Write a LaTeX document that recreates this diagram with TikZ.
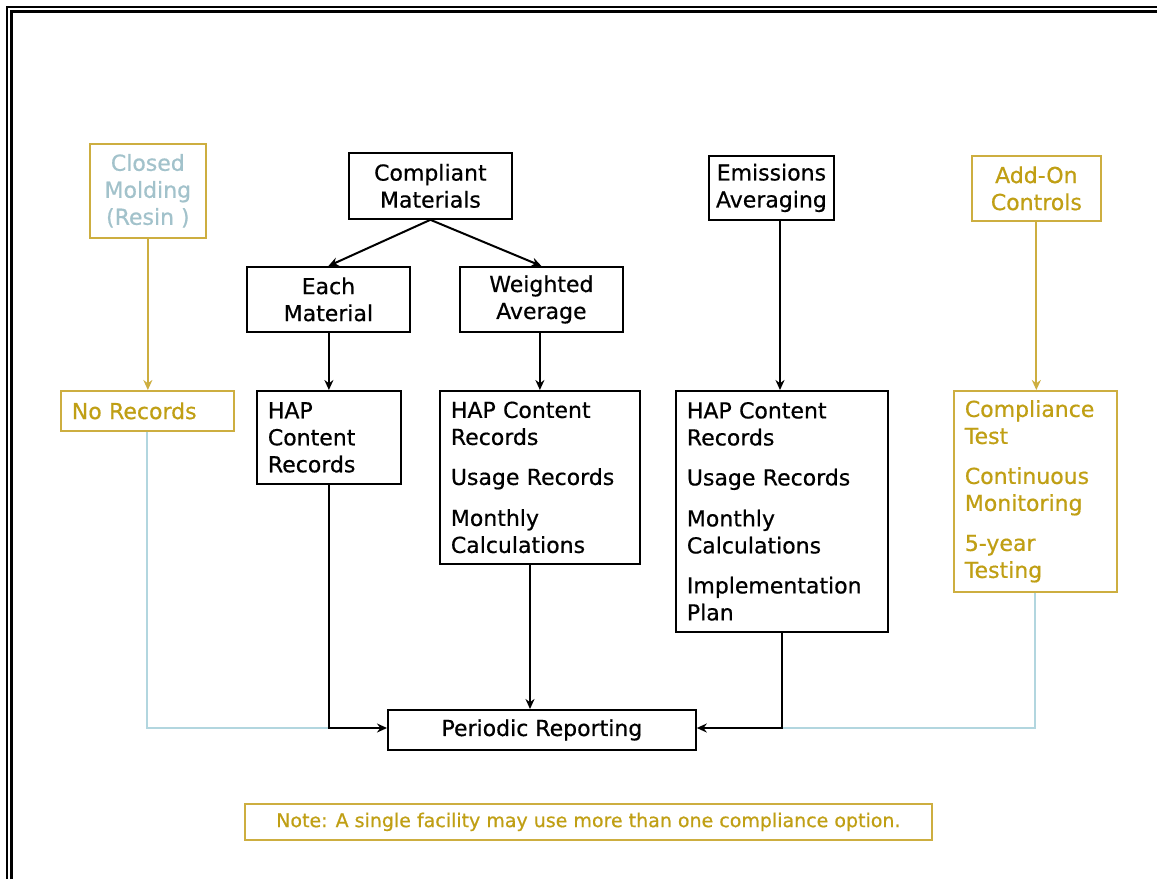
\documentclass[tikz,border=0pt]{standalone}
\usepackage{fontspec}
\setmainfont{DejaVu Sans}[FakeBold=0.6]
\usetikzlibrary{arrows.meta}
\definecolor{goldtext}{HTML}{C09F14}
\definecolor{goldline}{HTML}{CDAE40}
\definecolor{paleblue}{HTML}{B2D6DF}
\definecolor{greytext}{HTML}{A2C2CB}
\tikzset{
  box/.style={draw=black, line width=1.8pt, anchor=north west, inner sep=0pt,
    font=\fontsize{22}{27}\selectfont, align=center},
  listbox/.style={box, align=left, inner xsep=11pt},
  goldbox/.style={box, draw=goldline, line width=1.7pt, text=goldtext},
  goldlist/.style={goldbox, align=left, inner xsep=11pt},
  flow/.style={line width=2pt, -{Stealth[length=10pt,width=9pt]}},
  goldflow/.style={flow, draw=goldline, fill=goldline, line width=1.8pt},
  paleflow/.style={draw=paleblue, line width=1.8pt},
}
\begin{document}
\begin{tikzpicture}[x=1pt,y=-1pt]
  % page and double rule on the top and left edges
  \fill[white] (0,0) rectangle (1157,879);
  \useasboundingbox (0,0) rectangle (1157,879);
  \draw[line width=2.2pt] (7,879) -- (7,7) -- (1157,7);
  \draw[line width=2.2pt] (11.5,879) -- (11.5,11.5) -- (1157,11.5);

  % top row
  \node[goldbox, text=greytext, minimum width=116, minimum height=94] (closed) at (89,143) {Closed\\Molding\\(Resin )};
  \node[box, minimum width=163, minimum height=66] (compliant) at (348,152) {Compliant\\Materials};
  \node[box, minimum width=125, minimum height=64] (emis) at (708,155) {Emissions\\Averaging};
  \node[goldbox, minimum width=129, minimum height=65] (addon) at (971,155) {Add-On\\Controls};

  % second row
  \node[box, minimum width=163, minimum height=65] (each) at (246,266) {Each\\Material};
  \node[box, minimum width=163, minimum height=65] (weighted) at (459,266) {Weighted\\Average};

  % record boxes
  \node[goldlist, text width=151, minimum width=173, minimum height=40] (norec) at (60,390) {No Records};
  \node[listbox, text width=122, minimum width=144, minimum height=93] (hap1) at (256,390) {HAP\\Content\\Records};
  \node[listbox, text width=178, minimum width=200, minimum height=173] (hap2) at (439,390)
    {HAP Content\\Records\\[13pt]Usage Records\\[14pt]Monthly\\Calculations};
  \node[listbox, text width=190, minimum width=212, minimum height=241] (hap3) at (675,390)
    {HAP Content\\Records\\[13pt]Usage Records\\[14pt]Monthly\\Calculations\\[13pt]Implementation\\Plan};
  \node[goldlist, text width=141, minimum width=163, minimum height=201] (test) at (953,390)
    {Compliance\\Test\\[13pt]Continuous\\Monitoring\\[13pt]5-year\\Testing};

  % reporting and note
  \node[box, minimum width=308, minimum height=40] (report) at (387,709) {Periodic Reporting};
  \node[goldbox, font=\fontsize{19}{23}\selectfont, minimum width=687, minimum height=36] (note) at (244,803)
    {Note: A single facility may use more than one compliance option.};

  % connectors
  \coordinate (cmfoot) at (compliant.south);
  \draw[flow] (cmfoot) -- (each.north);
  \draw[flow] (cmfoot) -- (weighted.north);
  \draw[flow] (each.south -| hap1.north) -- (hap1.north);
  \draw[flow] (weighted.south -| hap2.north) -- (hap2.north);
  \draw[flow] (emis.south -| 780,0) -- (hap3.north -| 780,0);
  \draw[goldflow] (closed.south) -- (norec.north -| closed.south);
  \draw[goldflow] (addon.south) -- (test.north -| addon.south);

  % pale return lines from the side options
  \coordinate (lcorner) at (147,728);
  \coordinate (rcorner) at (1035,728);
  \draw[paleflow] (norec.south -| lcorner) -- (lcorner) -- (329,728);
  \draw[paleflow] (test.south -| rcorner) -- (rcorner) -- (782,728);

  % black return lines
  \draw[flow] (hap1.south -| 329,0) -- (329,728) -- (report.west |- 0,728);
  \draw[flow] (hap2.south -| 530,0) -- (report.north -| 530,0);
  \draw[flow] (hap3.south -| 782,0) -- (782,728) -- (report.east |- 0,728);
\end{tikzpicture}
\end{document}
